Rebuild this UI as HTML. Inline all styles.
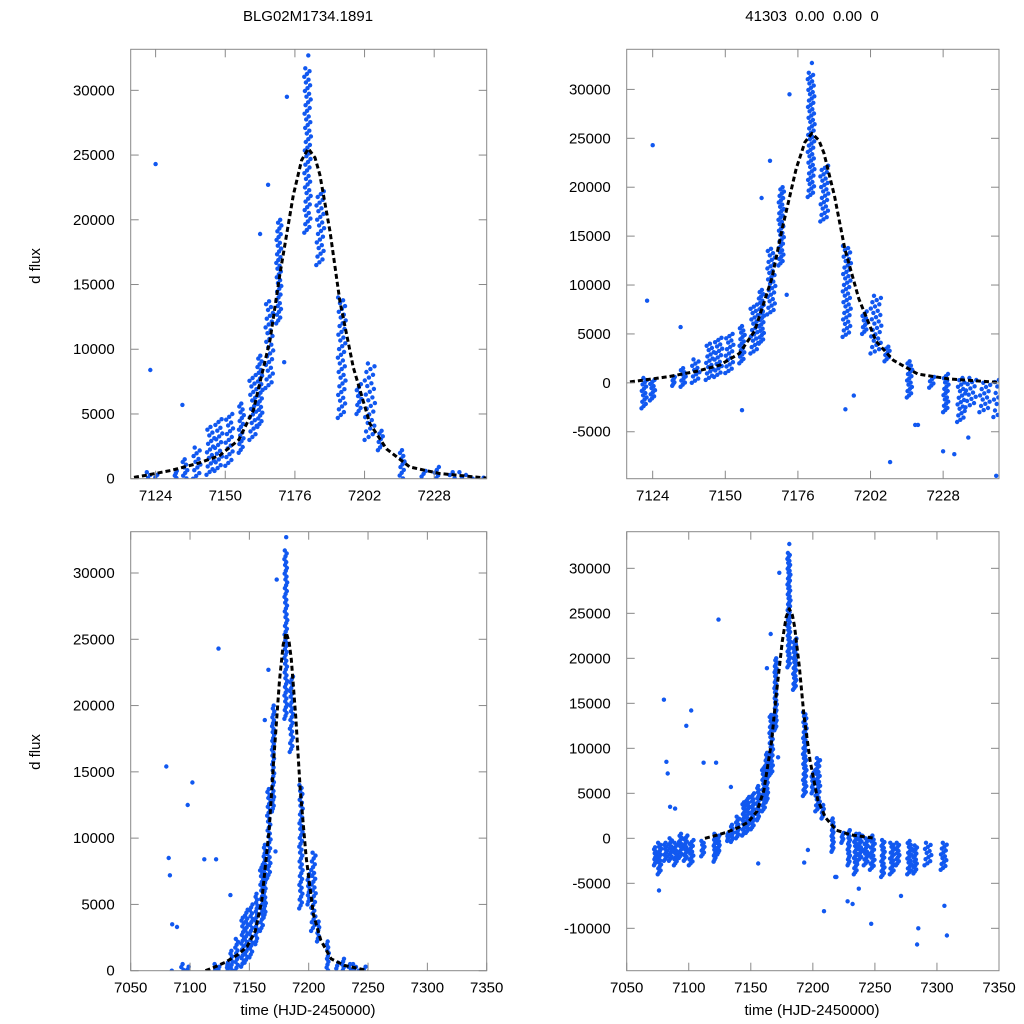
<!DOCTYPE html>
<html><head><meta charset="utf-8"><style>
html,body{margin:0;padding:0;background:#fff;width:1024px;height:1024px;overflow:hidden;}
svg{display:block;font-family:"Liberation Sans",sans-serif;overflow:hidden;}
</style></head><body>
<svg id="c" width="1024" height="1024" viewBox="0 0 1024 1024">
<text x="308" y="21" font-size="15" text-anchor="middle">BLG02M1734.1891</text>
<text x="812" y="21" font-size="15" text-anchor="middle" xml:space="preserve">41303  0.00  0.00  0</text>
<text transform="translate(40,266) rotate(-90)" font-size="15" text-anchor="middle">d flux</text>
<text transform="translate(40,752) rotate(-90)" font-size="15" text-anchor="middle">d flux</text>
<text x="308" y="1015" font-size="15" text-anchor="middle">time (HJD-2450000)</text>
<text x="812" y="1015" font-size="15" text-anchor="middle">time (HJD-2450000)</text>
</svg>
<script>
// nightly groups: start time, end time, low flux, high flux
const groupStart=[7072,7075,7080,7084,7088,7092,7096,7100,7110,7120,7123,7131,7134,7138,7143,7146,7150,7155,7159,7162,7165,7169,7179.5,7184,7192,7199,7202,7207,7215,7223,7228,7233,7236,7241,7246,7255,7262,7267,7276,7281,7290,7303];
const groupEnd=[7074,7078,7083,7087,7091,7095,7099,7104,7113,7122,7125,7132,7136,7141,7146,7149,7153,7157,7162,7164,7168,7171,7182,7187,7195,7201,7206,7209,7217,7225,7230,7236,7240,7245,7250,7258,7266,7270,7280,7284,7296,7308];
const groupLow=[-3000,-4000,-2500,-2500,-3000,-2200,-2500,-3000,-2000,-2600,-1800,-300,-400,0,300,600,1000,2000,3000,4000,7000,12000,19000,16500,4700,5000,3000,2200,-1500,-500,-3000,-4000,-2500,-3000,-3500,-4300,-4000,-3000,-4000,-3900,-3000,-3500];
const groupHigh=[-1000,-500,-500,0,-500,500,300,-200,-300,500,300,600,1500,2400,4000,4600,5000,5800,8000,9500,13700,20000,31700,22200,14000,7300,8900,3700,2200,600,900,500,500,0,300,-200,-500,-500,-300,-800,-500,-500];
// isolated points
const outT=[7076,7080,7082,7083,7085,7089,7098,7102,7112,7122,7124,7134,7163,7166,7173,7172,7181,7193,7209,7218,7228,7232,7237,7247,7271,7284,7285,7306,7308,7308,7156,7196,7219];
const outF=[-5800,15400,8500,7200,3500,3300,12500,14200,8400,8400,24300,5700,18900,22700,29500,9000,32700,-2700,-8100,-4300,-7000,-7300,-5600,-9500,-6400,-11800,-10000,-7500,-10800,-15000,-2800,-1300,-4300];
// model fit curve
const modelT=[7113,7120,7130,7140,7148,7155,7160.5,7166.7,7170.4,7175.4,7178.5,7181,7183.5,7185.3,7189.1,7192.8,7197.8,7204,7210.2,7218.9,7230,7240,7250];
const modelF=[0,250,650,1200,1800,3000,5300,10700,15800,21900,24600,25500,24800,23500,19100,13700,8600,4250,2300,900,400,200,0];

const panels=[
 {n:'top-left',x0:130.7,x1:486.7,y0:49.3,y1:478.7,tmin:7114.7,tmax:7247.6,fmin:0,fmax:33170,xt:[7124,7150,7176,7202,7228],yt:[0,5000,10000,15000,20000,25000,30000]},
 {n:'top-right',x0:626.7,x1:999,y0:49.3,y1:478.7,tmin:7114.7,tmax:7248,fmin:-9800,fmax:34100,xt:[7124,7150,7176,7202,7228],yt:[-5000,0,5000,10000,15000,20000,25000,30000]},
 {n:'bottom-left',x0:130.7,x1:486.7,y0:531.7,y1:970.7,tmin:7050,tmax:7350,fmin:0,fmax:33115,xt:[7050,7100,7150,7200,7250,7300,7350],yt:[0,5000,10000,15000,20000,25000,30000]},
 {n:'bottom-right',x0:626.7,x1:999,y0:531.7,y1:970.7,tmin:7050,tmax:7350,fmin:-14710,fmax:34070,xt:[7050,7100,7150,7200,7250,7300,7350],yt:[-10000,-5000,0,5000,10000,15000,20000,25000,30000]}
];
const NS='http://www.w3.org/2000/svg';
const svg=document.getElementById('c');
function mk(tag,at,parent){const e=document.createElementNS(NS,tag);for(const k in at)e.setAttribute(k,at[k]);(parent||svg).appendChild(e);return e;}
panels.forEach((p,pi)=>{
 const X=t=>p.x0+(t-p.tmin)/(p.tmax-p.tmin)*(p.x1-p.x0);
 const Y=f=>p.y1-(f-p.fmin)/(p.fmax-p.fmin)*(p.y1-p.y0);
 const inside=(t,f)=>t>=p.tmin&&t<=p.tmax&&f>=p.fmin&&f<=p.fmax;
 const g=mk('g',{});
 
 
 const cp=mk('clipPath',{id:'cp'+pi},g);
 mk('rect',{x:p.x0,y:p.y0,width:p.x1-p.x0,height:p.y1-p.y0},cp);
 const dg=mk('g',{'clip-path':'url(#cp'+pi+')',fill:'#1158f0'},g);
 
 
 for(let gi=0;gi<groupStart.length;gi++){
  const lo=groupLow[gi],hi=groupHigh[gi];
  const n=Math.max(5,Math.round((hi-lo)/220));
  for(let i=0;i<=n;i++){
   const fr=(i*0.382)%1;
   const t=groupStart[gi]+(groupEnd[gi]-groupStart[gi])*fr;
   const f=lo+(hi-lo)*i/n;
   if(!inside(t,f))continue;
   mk('circle',{cx:X(t).toFixed(1),cy:Y(f).toFixed(1),r:2.2},dg);
  }
 }
 for(let i=0;i<outT.length;i++){
  if(!inside(outT[i],outF[i]))continue;
  const c=mk('circle',{cx:X(outT[i]).toFixed(1),cy:Y(outF[i]).toFixed(1),r:2.2},dg);
  
  
 }
 const pts=modelT.map((t,i)=>X(t).toFixed(1)+','+Y(modelF[i]).toFixed(1)).join(' ');
 const ml=mk('polyline',{points:pts,fill:'none',stroke:'#000','stroke-width':3,'stroke-dasharray':'5,3','stroke-linejoin':'round','clip-path':'url(#cp'+pi+')'},g);
 
 
 const fr=mk('rect',{x:p.x0,y:p.y0,width:p.x1-p.x0,height:p.y1-p.y0,fill:'none',stroke:'#888','stroke-width':1},g);
 
 
 p.xt.forEach(t=>{
  const x=X(t);
  mk('line',{x1:x,x2:x,y1:p.y1,y2:p.y1-8,stroke:'#888'},g);
  mk('line',{x1:x,x2:x,y1:p.y0,y2:p.y0+8,stroke:'#888'},g);
  const tx=mk('text',{x:x,y:p.y1+22,'font-size':15,'text-anchor':'middle'},g);
  tx.textContent=t;
  
  
 });
 p.yt.forEach(f=>{
  const y=Y(f);
  mk('line',{x1:p.x0,x2:p.x0+8,y1:y,y2:y,stroke:'#888'},g);
  mk('line',{x1:p.x1,x2:p.x1-8,y1:y,y2:y,stroke:'#888'},g);
  const tx=mk('text',{x:p.x0-16,y:y+5,'font-size':15,'text-anchor':'end'},g);
  tx.textContent=f;
  
  
 });
});
</script>
</body></html>
